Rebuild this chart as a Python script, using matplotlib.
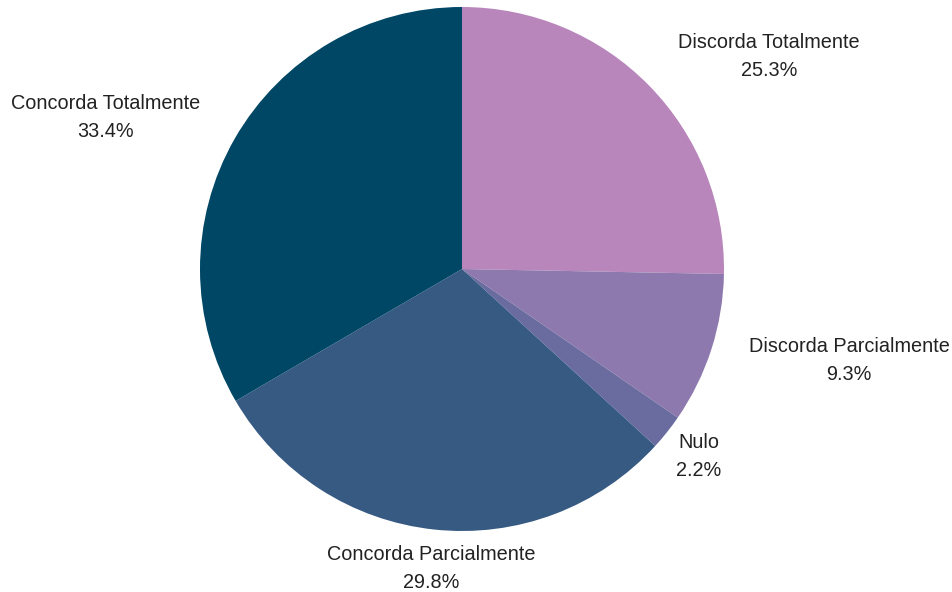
import matplotlib.pyplot as plt

categories = ["Discorda Totalmente", "Discorda Parcialmente", "Nulo",
              "Concorda Parcialmente", "Concorda Totalmente"]
shares = [25.3, 9.3, 2.2, 29.8, 33.4]
colors = ["#b886bb", "#8e79ae", "#6a6b9e", "#375a83", "#004766"]

# label centres in pixel space (x from left, y from top)
label_pos = [(769, 56), (849, 361), (699, 456), (431, 568), (106, 117)]

W, H = 953, 592
fig = plt.figure(figsize=(W / 100, H / 100), dpi=100)
ax = fig.add_axes([0, 0, 1, 1])

ax.pie(shares, colors=colors, startangle=90, counterclock=False,
       center=(462, H - 269), radius=262,
       wedgeprops=dict(linewidth=0), frame=True)
ax.set_xlim(0, W)
ax.set_ylim(0, H)
ax.set_aspect("equal")
ax.axis("off")

for name, val, (x, y) in zip(categories, shares, label_pos):
    ax.text(x, H - y, f"{name}\n{val:.1f}%", ha="center", va="center",
            fontsize=14.3, family="Liberation Sans", color="#222222",
            linespacing=1.6)

fig.savefig("out.png", dpi=100)
